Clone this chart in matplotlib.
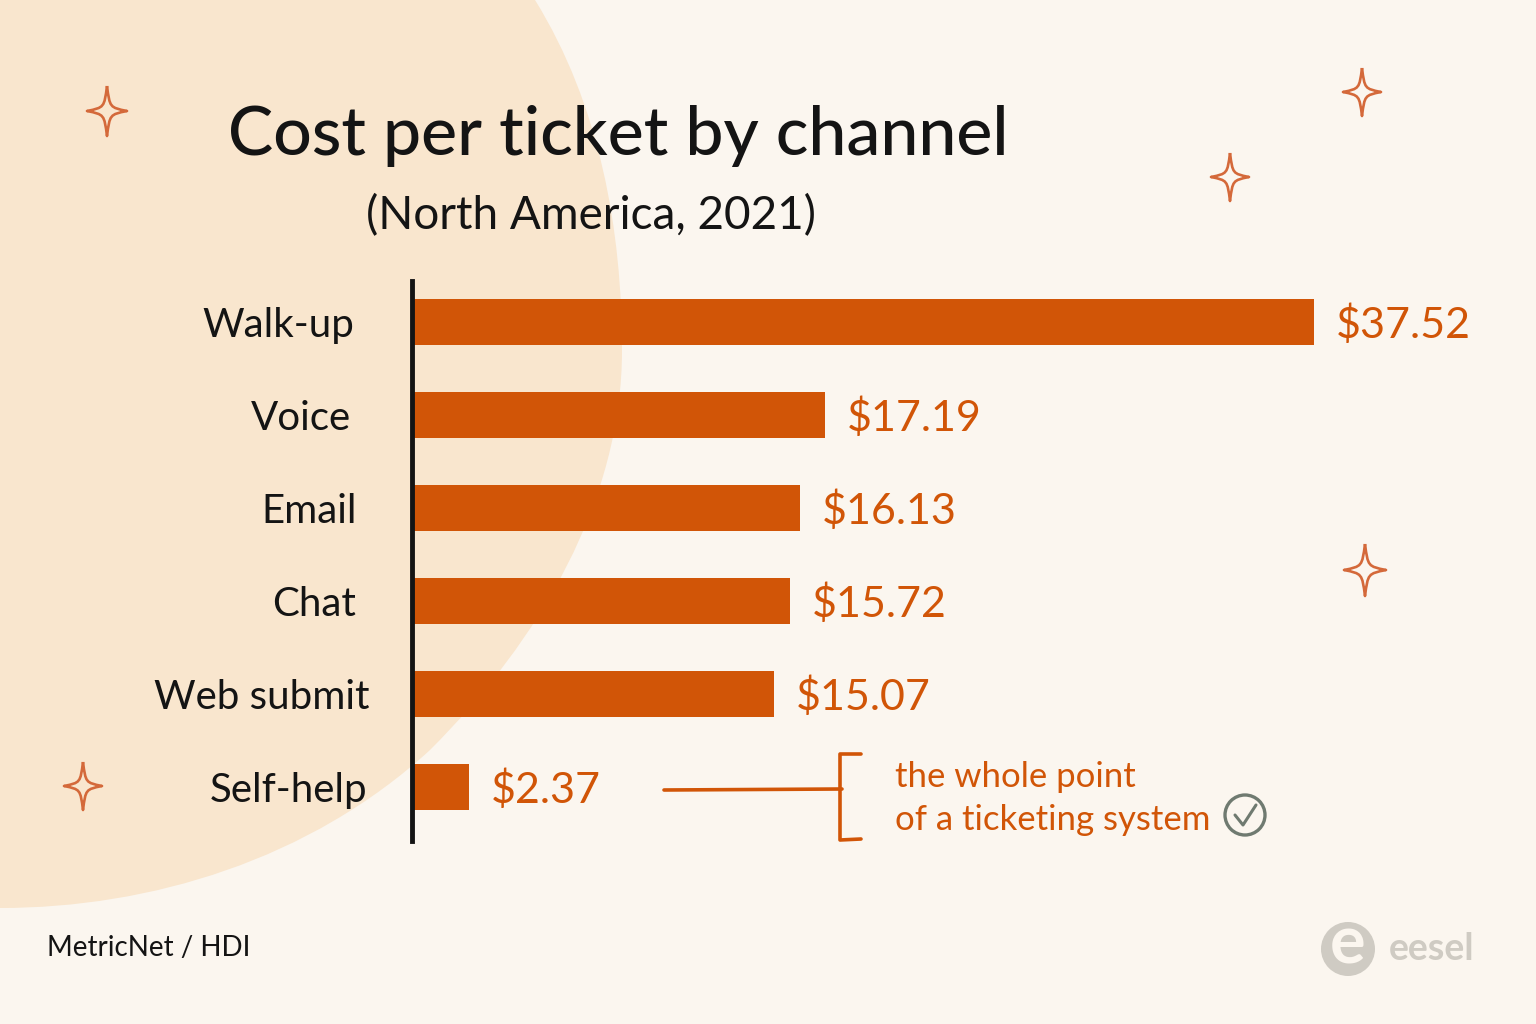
import matplotlib
matplotlib.use('Agg')
import matplotlib.pyplot as plt
from matplotlib.patches import PathPatch, Circle
from matplotlib.path import Path
from matplotlib.transforms import ScaledTranslation

channels = ['Walk-up', 'Voice', 'Email', 'Chat', 'Web submit', 'Self-help']
costs = [37.52, 17.19, 16.13, 15.72, 15.07, 2.37]
cost_labels = ['$37.52', '$17.19', '$16.13', '$15.72', '$15.07', '$2.37']

BG = '#FBF6EF'
PEACH = '#F9E6CE'
ORANGE = '#D15507'
INK = '#141414'
GREY = '#6F7A70'
LOGO = '#CFCBC3'

plt.rcParams['font.family'] = ['Lato', 'DejaVu Sans']

W, H = 1536, 1024
fig = plt.figure(figsize=(W / 100, H / 100), dpi=100, facecolor=BG)

# full-page layer in pixel units for the decoration
bg = fig.add_axes([0, 0, 1, 1], zorder=0)
bg.set_xlim(0, W)
bg.set_ylim(H, 0)
bg.axis('off')

blob = Path(
    [(0, 0), (535, 0),
     (600, 105), (622, 230), (622, 350),
     (622, 500), (540, 640), (430, 750),
     (310, 860), (150, 908), (0, 908),
     (0, 0)],
    [Path.MOVETO, Path.LINETO,
     Path.CURVE4, Path.CURVE4, Path.CURVE4,
     Path.CURVE4, Path.CURVE4, Path.CURVE4,
     Path.CURVE4, Path.CURVE4, Path.CURVE4,
     Path.CLOSEPOLY])
bg.add_patch(PathPatch(blob, fc=PEACH, ec='none'))


def sparkle(cx, cy, rx, ry):
    # four-point star with concave sides
    k = 0.14
    verts = [(cx, cy - ry),
             (cx + rx * k, cy - ry * k), (cx + rx * k, cy - ry * k), (cx + rx, cy),
             (cx + rx * k, cy + ry * k), (cx + rx * k, cy + ry * k), (cx, cy + ry),
             (cx - rx * k, cy + ry * k), (cx - rx * k, cy + ry * k), (cx - rx, cy),
             (cx - rx * k, cy - ry * k), (cx - rx * k, cy - ry * k), (cx, cy - ry)]
    codes = [Path.MOVETO] + [Path.CURVE4] * 12
    bg.add_patch(PathPatch(Path(verts, codes), fc='none', ec='#D4693A', lw=1.9,
                           joinstyle='round'))


sparkle(107, 111, 20, 25)
sparkle(1362, 92, 19, 24)
sparkle(1230, 177, 19, 24)
sparkle(1365, 570, 21, 26)
sparkle(83, 786, 19, 24)

# bars: 24.04 px per dollar, zero at x=412
ax = fig.add_axes([412 / W, (H - 841) / H, (W - 412) / W, (841 - 281) / H], zorder=1)
ax.patch.set_alpha(0)
ax.set_xlim(0, (W - 412) / 24.04)
ypos = list(range(len(channels)))
ax.set_ylim(5 + 54 / 93, -41 / 93)
ax.barh(ypos, costs, height=0.49, color=ORANGE)

for s in ['top', 'right', 'bottom']:
    ax.spines[s].set_visible(False)
ax.spines['left'].set_linewidth(3.5)
ax.spines['left'].set_color(INK)
ax.xaxis.set_visible(False)
ax.set_yticks(ypos)
ax.set_yticklabels(channels, fontsize=29, color=INK)
ax.tick_params(axis='y', length=0, pad=40)

# the two longer names sit a little closer to the axis
label_nudges = [-2, -5, 0, 0, 13, 11]
for lab, dx in zip(ax.get_yticklabels(), label_nudges):
    lab.set_transform(lab.get_transform() + ScaledTranslation(dx / 100, 0, fig.dpi_scale_trans))

for y, c, lab in zip(ypos, costs, cost_labels):
    ax.annotate(lab, (c, y), xytext=(22, -3), textcoords='offset pixels', va='center',
                ha='left', fontsize=31, color=ORANGE)

# title block
bg.text(618, 136, 'Cost per ticket by channel', fontsize=49, color=INK,
        ha='center', va='center', fontweight='medium')
bg.text(591, 216, '(North America, 2021)', fontsize=33, color=INK,
        ha='center', va='center')

# callout next to the self-help bar
bg.plot([664, 842], [790, 789], color=ORANGE, lw=2.6, solid_capstyle='round')
bg.plot([861, 840, 840, 861], [754, 754, 840, 839], color=ORANGE, lw=2.6,
        solid_capstyle='round', solid_joinstyle='round')
bg.text(895, 777, 'the whole point', fontsize=25, color=ORANGE,
        ha='left', va='center')
bg.text(895, 820, 'of a ticketing system', fontsize=25, color=ORANGE,
        ha='left', va='center')
bg.add_patch(Circle((1245, 815), 20, fc='none', ec=GREY, lw=2.4))
bg.plot([1235, 1243, 1256], [815, 825, 805], color=GREY, lw=2.2,
        solid_capstyle='round', solid_joinstyle='round')

# source and logo
bg.text(47, 948, 'MetricNet / HDI', fontsize=20, color=INK,
        ha='left', va='center')
bg.add_patch(Circle((1348, 949), 27, fc=LOGO, ec='none'))
bg.text(1348, 945, 'e', fontsize=48, color=BG, ha='center', va='center', fontweight='bold')
bg.text(1389, 949, 'eesel', fontsize=27, color=LOGO, ha='left', va='center',
        fontweight='bold')

fig.savefig('out.png', dpi=100, facecolor=BG)
